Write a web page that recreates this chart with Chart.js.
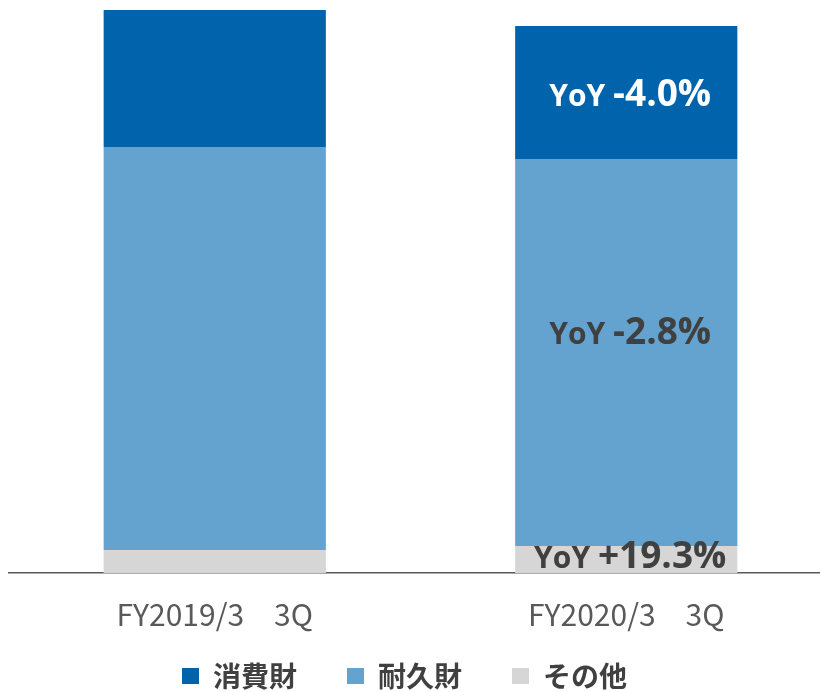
<!DOCTYPE html>
<html>
<head>
<meta charset="utf-8">
<script src="https://cdn.jsdelivr.net/npm/chart.js@4"></script>
<style>
  html, body { margin: 0; padding: 0; background: #fff; overflow: hidden; }
  #wrap { position: relative; width: 832px; height: 692px; }
</style>
</head>
<body>
<div id="wrap"><canvas id="salesChart"></canvas></div>
<script>
const periods = ['FY2019/3\u30003Q', 'FY2020/3\u30003Q'];
const seriesNames = ['その他', '耐久財', '消費財'];
const otherValues = [23, 27];
const durableValues = [403, 387];
const consumerValues = [137, 133];
const yoyLabels = ['+19.3%', '-2.8%', '-4.0%'];

const colors = ['#d6d6d6', '#64a3cf', '#0063ac'];
const labelColors = ['#404040', '#404040', '#ffffff'];
const labelShiftY = [-5, -22, 0];

// YoY labels drawn on the FY2020 bar
const yoyPlugin = {
    id: 'yoyPlugin',
    afterDatasetsDraw(chart) {
        const ctx = chart.ctx;
        chart.data.datasets.forEach((ds, i) => {
            const bar = chart.getDatasetMeta(i).data[1];
            if (!bar) return;
            const cx = bar.x + 4;
            const cy = (bar.y + bar.base) / 2 + labelShiftY[i];
            const small = 'bold 30px "Open Sans", "Noto Sans", sans-serif';
            const big = 'bold 37px "Open Sans", "Noto Sans", sans-serif';
            ctx.save();
            ctx.font = small;
            const w1 = ctx.measureText('YoY ').width;
            ctx.font = big;
            const w2 = ctx.measureText(yoyLabels[i]).width;
            let x = cx - (w1 + w2) / 2;
            ctx.fillStyle = labelColors[i];
            ctx.textBaseline = 'alphabetic';
            ctx.textAlign = 'left';
            ctx.font = small;
            ctx.fillText('YoY ', x, cy + 13);
            ctx.font = big;
            ctx.fillText(yoyLabels[i], x + w1, cy + 13);
            ctx.restore();
        });
    }
};

// nudge the legend so it sits where the original does
const legendShift = {
    id: 'legendShift',
    afterLayout(chart) {
        const lg = chart.legend;
        lg.left -= 16;
        lg.right -= 16;
        lg.top -= 37;
    }
};

new Chart(document.getElementById('salesChart'), {
    type: 'bar',
    data: {
        labels: periods,
        datasets: [
            { label: seriesNames[0], data: otherValues, backgroundColor: colors[0] },
            { label: seriesNames[1], data: durableValues, backgroundColor: colors[1] },
            { label: seriesNames[2], data: consumerValues, backgroundColor: colors[2] }
        ]
    },
    options: {
        responsive: true,
        maintainAspectRatio: false,
        animation: false,
        layout: { padding: { left: 9, right: 0, top: 0, bottom: 0 } },
        datasets: { bar: { barPercentage: 0.9, categoryPercentage: 0.6 } },
        plugins: {
            tooltip: { enabled: false },
            legend: {
                position: 'bottom',
                reverse: true,
                maxHeight: 43,
                labels: {
                    boxWidth: 17,
                    boxHeight: 16,
                    padding: 50,
                    color: '#404040',
                    font: { family: '"Noto Sans CJK JP", sans-serif', size: 28, weight: 'bold' }
                }
            }
        },
        scales: {
            x: {
                stacked: true,
                grid: { display: false },
                border: { display: true, color: '#595959', width: 1.5 },
                ticks: {
                    color: '#595959',
                    padding: 16,
                    font: { family: '"Noto Sans CJK JP", sans-serif', size: 30 }
                }
            },
            y: {
                stacked: true,
                display: false,
                min: 0,
                max: 573
            }
        }
    },
    plugins: [yoyPlugin, legendShift]
});
</script>
</body>
</html>
